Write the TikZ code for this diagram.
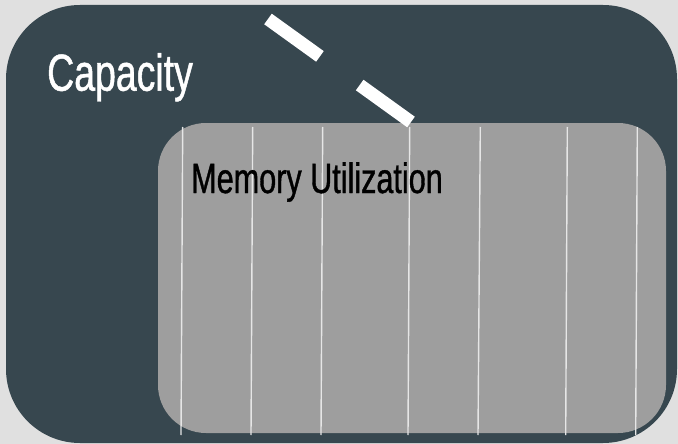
\documentclass[tikz,border=0pt]{standalone}
\usepackage{fontspec}
\newfontfamily\condfont[FakeStretch=0.72,FakeBold=0.9]{Liberation Sans}
\definecolor{pagebg}{HTML}{E0E0E0}
\definecolor{slate}{HTML}{37474F}
\definecolor{midgray}{HTML}{9E9E9E}
\definecolor{gridline}{HTML}{E6E6E6}
\begin{document}
\begin{tikzpicture}[x=1pt,y=-1pt,
  capbox/.style={fill=slate,rounded corners=74pt},
  usebox/.style={fill=midgray,rounded corners=48pt},
  divider/.style={draw=gridline,line width=1.4pt},
  marker/.style={draw=white,line width=13pt,dash pattern=on 64pt off 49pt},
  label/.style={inner sep=0pt,anchor=base west,font=\condfont}]
  \useasboundingbox[fill=pagebg] (0,0) rectangle (678,444);
  % outer capacity panel
  \path[capbox] (6,5) rectangle (677,443);
  % inner utilization panel
  \path[usebox] (158,123) rectangle (666,433);
  % column dividers
  \foreach \xt/\xb in {182.7/181,252.7/251,322.7/321,409.7/408,480.3/478,567.3/565.7,637.3/635.7}
    \draw[divider] (\xt,127) -- (\xb,435);
  % dashed marker
  \coordinate (m1) at (268,19);
  \coordinate (m2) at (411,122);
  \draw[marker] (m1) -- (m2);
  % labels
  \node[label,text=white,font=\condfont\fontsize{52}{60}\selectfont] (cap) at (47,90.7) {Capacity};
  \node[label,text=black,font=\condfont\fontsize{42.5}{50}\selectfont] (mem) at (191,193) {Memory Utilization};
\end{tikzpicture}
\end{document}
